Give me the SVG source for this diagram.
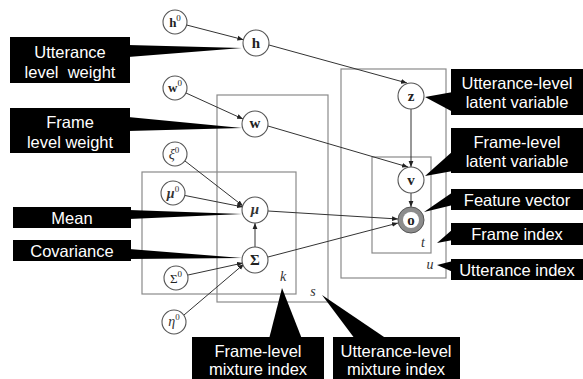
<svg xmlns="http://www.w3.org/2000/svg" width="583" height="379" viewBox="0 0 583 379">
<style>
.plate{fill:none;stroke:#8a8a8a;stroke-width:1.2}
.node{fill:#fff;stroke:#555;stroke-width:1.1}
.obs{fill:#8c8c8c;stroke:#555;stroke-width:1}
.var{font-family:"Liberation Serif","DejaVu Serif",serif;font-weight:bold;font-size:15px;fill:#222;text-anchor:middle}
.hyp{font-family:"Liberation Serif","DejaVu Serif",serif;font-weight:bold;font-size:13px;fill:#222;text-anchor:middle}
.it{font-family:"Liberation Serif","DejaVu Serif",serif;font-style:italic;font-size:14px;fill:#333;text-anchor:middle}
.sup{font-size:9px;font-weight:normal;font-style:normal}
.box{fill:#000}
.lbl{font-family:"Liberation Sans",Arial,sans-serif;font-size:16.5px;fill:#fff;text-anchor:middle}
.edge{stroke:#333;stroke-width:1;fill:none;marker-end:url(#ah)}
</style>
<defs>
<marker id="ah" viewBox="0 0 10 10" refX="10" refY="5" markerWidth="6" markerHeight="6" orient="auto" markerUnits="userSpaceOnUse">
<path d="M0,1 L10,5 L0,9 z" fill="#222"/>
</marker>
</defs>
<rect width="583" height="379" fill="#fff"/>
<g id="plates">
<rect class="plate" x="142" y="172" width="154" height="122"/>
<rect class="plate" x="217" y="95" width="111" height="207"/>
<rect class="plate" x="341" y="69" width="105" height="209"/>
<rect class="plate" x="372" y="157" width="59" height="96"/>
<text class="it" x="283" y="281">k</text>
<text class="it" x="313" y="296">s</text>
<text class="it" x="423" y="247">t</text>
<text class="it" x="430" y="269">u</text>
</g>
<g id="connectors">
<line class="edge" x1="186.6" y1="25" x2="243.4" y2="39.7"/>
<line class="edge" x1="269" y1="45" x2="407" y2="83"/>
<line class="edge" x1="186" y1="93" x2="243" y2="119"/>
<line class="edge" x1="268" y1="126" x2="408" y2="167"/>
<line class="edge" x1="411" y1="109" x2="411" y2="167"/>
<line class="edge" x1="411" y1="193" x2="411" y2="207"/>
<line class="edge" x1="185" y1="161" x2="243" y2="206"/>
<line class="edge" x1="185" y1="195.5" x2="243" y2="207"/>
<line class="edge" x1="255" y1="247" x2="255" y2="223"/>
<line class="edge" x1="188" y1="275" x2="243" y2="263"/>
<line class="edge" x1="184" y1="315" x2="244" y2="264"/>
<line class="edge" x1="268" y1="211" x2="398" y2="219"/>
<line class="edge" x1="268" y1="257" x2="398" y2="223"/>
</g>
<g id="h0"><circle class="node" cx="175" cy="22" r="12"/><text class="hyp" x="175" y="27">h<tspan class="sup" dy="-6">0</tspan></text></g>
<g id="h"><circle class="node" cx="256" cy="43" r="13"/><text class="var" x="256" y="48">h</text></g>
<g id="w0"><circle class="node" cx="175" cy="88" r="12"/><text class="hyp" x="175" y="92">w<tspan class="sup" dy="-6">0</tspan></text></g>
<g id="w"><circle class="node" cx="255" cy="124" r="13"/><text class="var" x="255" y="128">w</text></g>
<g id="xi0"><circle class="node" cx="175" cy="154" r="12"/><text class="it" x="174" y="159">ξ<tspan class="sup" dy="-6">0</tspan></text></g>
<g id="mu0"><circle class="node" cx="173" cy="193" r="12"/><text class="it" x="173" y="198" style="font-weight:bold">μ<tspan class="sup" dy="-6">0</tspan></text></g>
<g id="mu"><circle class="node" cx="255" cy="210" r="13"/><text class="it" x="255" y="214" style="font-weight:bold;font-size:15px">μ</text></g>
<g id="Sigma"><circle class="node" cx="255" cy="260" r="13"/><text class="var" x="255" y="265">Σ</text></g>
<g id="Sigma0"><circle class="node" cx="176" cy="278" r="12"/><text class="hyp" x="176" y="283" style="font-weight:normal">Σ<tspan class="sup" dy="-6">0</tspan></text></g>
<g id="eta0"><circle class="node" cx="174" cy="322" r="12"/><text class="it" x="174" y="326">η<tspan class="sup" dy="-6">0</tspan></text></g>
<g id="Z"><circle class="node" cx="411" cy="96" r="13"/><text class="var" x="411" y="101">z</text></g>
<g id="V"><circle class="node" cx="411" cy="180" r="13"/><text class="var" x="411" y="185">v</text></g>
<g id="O"><circle class="obs" cx="411" cy="220" r="13"/><circle cx="411" cy="220" r="8" fill="#fff"/><text class="var" x="411" y="225">o</text></g>
<g id="lbl-utt-weight">
<polygon class="box" points="128,45 128,57 242,48"/>
<rect class="box" x="10" y="37" width="120" height="46"/>
<text class="lbl" x="70" y="58">Utterance</text><text class="lbl" x="70" y="78" xml:space="preserve">level  weight</text>
</g>
<g id="lbl-frame-weight">
<polygon class="box" points="128,117 128,131 242,128"/>
<rect class="box" x="10" y="108" width="120" height="45"/>
<text class="lbl" x="70" y="128">Frame</text><text class="lbl" x="70" y="148">level weight</text>
</g>
<g id="lbl-mean">
<polygon class="box" points="129,210 129,219 242,214"/>
<rect class="box" x="13" y="207" width="118" height="21"/>
<text class="lbl" x="72" y="224">Mean</text>
</g>
<g id="lbl-cov">
<polygon class="box" points="129,249 129,259 242,258"/>
<rect class="box" x="13" y="240" width="118" height="21"/>
<text class="lbl" x="72" y="257">Covariance</text>
</g>
<g id="lbl-utt-latent">
<polygon class="box" points="453,92 453,112 425,97"/>
<rect class="box" x="451" y="69" width="132" height="46"/>
<text class="lbl" x="517" y="89">Utterance-level</text><text class="lbl" x="517" y="108">latent variable</text>
</g>
<g id="lbl-frame-latent">
<polygon class="box" points="453,151 453,171 425,176"/>
<rect class="box" x="451" y="128" width="132" height="45"/>
<text class="lbl" x="517" y="148">Frame-level</text><text class="lbl" x="517" y="167">latent variable</text>
</g>
<g id="lbl-feature">
<polygon class="box" points="453,192 453,205 424,212"/>
<rect class="box" x="451" y="189" width="132" height="21"/>
<text class="lbl" x="517" y="206">Feature vector</text>
</g>
<g id="lbl-frame-index">
<polygon class="box" points="453,229 453,240 437,243"/>
<rect class="box" x="451" y="223" width="132" height="22"/>
<text class="lbl" x="517" y="240">Frame index</text>
</g>
<g id="lbl-utt-index">
<polygon class="box" points="453,261 453,272 437,265"/>
<rect class="box" x="451" y="259" width="132" height="21"/>
<text class="lbl" x="517" y="276">Utterance index</text>
</g>
<g id="lbl-frame-mix">
<polygon class="box" points="282,288 269,339 302,339"/>
<rect class="box" x="192" y="337" width="132" height="42"/>
<text class="lbl" x="258" y="357">Frame-level</text><text class="lbl" x="258" y="375">mixture index</text>
</g>
<g id="lbl-utt-mix">
<polygon class="box" points="322,295 355,339 387,339"/>
<rect class="box" x="333" y="337" width="127" height="42"/>
<text class="lbl" x="396" y="357">Utterance-level</text><text class="lbl" x="396" y="375">mixture index</text>
</g>
</svg>
